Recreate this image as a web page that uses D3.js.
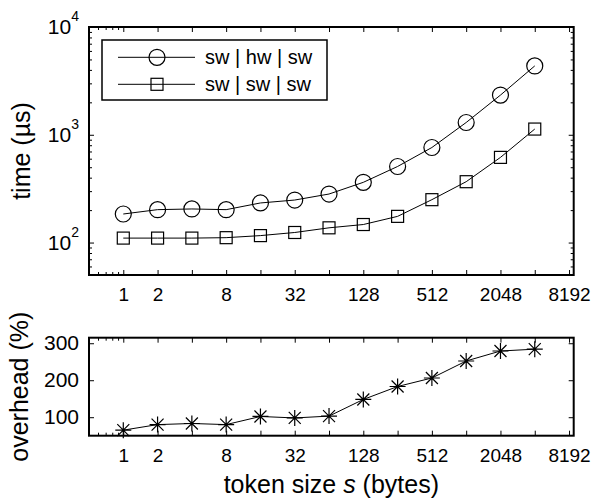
<!DOCTYPE html>
<html>
<head>
<meta charset="utf-8">
<script src="https://cdn.jsdelivr.net/npm/d3@7"></script>
<style>
  body { margin: 0; background: #fff; }
  text { font-family: "Liberation Sans", Arial, sans-serif; fill: #000; }
</style>
</head>
<body>
<script>
// token sizes (bytes) and the measured values
var sizes = [1, 2, 4, 8, 16, 32, 64, 128, 256, 512, 1024, 2048, 4096];
var hwTime = [184, 202, 205, 202, 233, 248, 282, 362, 508, 762, 1300, 2335, 4355];
var swTime = [110, 110, 110, 111, 116, 124, 137, 147, 175, 250, 367, 617, 1130];
var overhead = [65, 80, 83, 80, 102, 98, 103, 148, 183, 206, 252, 279, 284];

var seriesNames = ['sw | hw | sw', 'sw | sw | sw'];

var xTicks = [1, 2, 4, 8, 16, 32, 64, 128, 256, 512, 1024, 2048, 4096, 8192];
var xLabeled = [1, 2, 8, 32, 128, 512, 2048, 8192];
var xMinor = [0.6, 0.7, 0.8, 0.9];
var yTimeTicks = [100, 1000, 10000];
var yTimeMinor = [60, 70, 80, 90, 200, 300, 400, 500, 600, 700, 800, 900,
  2000, 3000, 4000, 5000, 6000, 7000, 8000, 9000];
var yOverTicks = [100, 200, 300];

var W = 595, H = 499;
var left = 89, right = 573.7;
var top1 = 27, bot1 = 275, top2 = 337.7, bot2 = 435.7;

var svg = d3.select('body').append('svg')
  .attr('width', W)
  .attr('height', H);

var x = d3.scaleLog().base(2).domain([0.5, 9000]).range([left, right]);
var yT = d3.scaleLog().domain([50, 10000]).range([bot1, top1]);
var yO = d3.scaleLinear().domain([50, 315]).range([bot2, top2]);

function clean(g) {
  g.select('.domain').remove();
  g.selectAll('line').attr('stroke', '#000').attr('stroke-width', 1);
}

// x ticks on both borders of a panel
function xAxes(top, bot) {
  svg.append('g').attr('transform', 'translate(0,' + bot + ')')
    .call(d3.axisBottom(x).tickValues(xTicks).tickSize(-5).tickPadding(13)
      .tickFormat(function(d){ return xLabeled.indexOf(d) >= 0 ? d : ''; }))
    .call(clean)
    .selectAll('text').style('font-size', '19px');
  svg.append('g').attr('transform', 'translate(0,' + bot + ')')
    .call(d3.axisBottom(x).tickValues(xMinor).tickSize(-3).tickFormat(''))
    .call(clean);
  svg.append('g').attr('transform', 'translate(0,' + top + ')')
    .call(d3.axisTop(x).tickValues(xTicks).tickSize(-5).tickFormat(''))
    .call(clean);
  svg.append('g').attr('transform', 'translate(0,' + top + ')')
    .call(d3.axisTop(x).tickValues(xMinor).tickSize(-3).tickFormat(''))
    .call(clean);
}

xAxes(top1, bot1);
xAxes(top2, bot2);

// top panel y axis (log)
var yl = svg.append('g').attr('transform', 'translate(' + left + ',0)')
  .call(d3.axisLeft(yT).tickValues(yTimeTicks).tickSize(-5).tickPadding(10).tickFormat(''))
  .call(clean);
yl.selectAll('.tick text').each(function(d) {
  var t = d3.select(this).style('font-size', '21px');
  t.append('tspan').text('10');
  t.append('tspan').text(Math.round(Math.log10(d)))
    .style('font-size', '14px').attr('dy', '-13');
});
svg.append('g').attr('transform', 'translate(' + left + ',0)')
  .call(d3.axisLeft(yT).tickValues(yTimeMinor).tickSize(-3).tickFormat(''))
  .call(clean);
svg.append('g').attr('transform', 'translate(' + right + ',0)')
  .call(d3.axisRight(yT).tickValues(yTimeTicks).tickSize(-5).tickFormat(''))
  .call(clean);
svg.append('g').attr('transform', 'translate(' + right + ',0)')
  .call(d3.axisRight(yT).tickValues(yTimeMinor).tickSize(-3).tickFormat(''))
  .call(clean);

// bottom panel y axis
svg.append('g').attr('transform', 'translate(' + left + ',0)')
  .call(d3.axisLeft(yO).tickValues(yOverTicks).tickSize(-5).tickPadding(10))
  .call(clean)
  .selectAll('text').style('font-size', '21px');
svg.append('g').attr('transform', 'translate(' + right + ',0)')
  .call(d3.axisRight(yO).tickValues(yOverTicks).tickSize(-5).tickFormat(''))
  .call(clean);

// panel boxes
[[top1, bot1], [top2, bot2]].forEach(function(p) {
  svg.append('rect')
    .attr('x', left).attr('y', p[0])
    .attr('width', right - left).attr('height', p[1] - p[0])
    .attr('fill', 'none').attr('stroke', '#000').attr('stroke-width', 2);
});

// lines
var lineT = d3.line().x(function(d){ return x(d[0]); }).y(function(d){ return yT(d[1]); });
var lineO = d3.line().x(function(d){ return x(d[0]); }).y(function(d){ return yO(d[1]); });

var hwPts = sizes.map(function(s, i){ return [s, hwTime[i]]; });
var swPts = sizes.map(function(s, i){ return [s, swTime[i]]; });
var ovPts = sizes.map(function(s, i){ return [s, overhead[i]]; });

[hwPts, swPts].forEach(function(pts) {
  svg.append('path').datum(pts).attr('d', lineT)
    .attr('fill', 'none').attr('stroke', '#000').attr('stroke-width', 1);
});
svg.append('path').datum(ovPts).attr('d', lineO)
  .attr('fill', 'none').attr('stroke', '#000').attr('stroke-width', 1);

function circleMark(g, cx, cy) {
  g.append('circle').attr('cx', cx).attr('cy', cy).attr('r', 8)
    .attr('fill', 'none').attr('stroke', '#000').attr('stroke-width', 1.2);
}
function squareMark(g, cx, cy) {
  g.append('rect').attr('x', cx - 6).attr('y', cy - 6).attr('width', 12).attr('height', 12)
    .attr('fill', 'none').attr('stroke', '#000').attr('stroke-width', 1.2);
}
function starMark(g, cx, cy) {
  var s = 8, d = 6;
  var p = 'M' + (cx - s) + ',' + cy + 'H' + (cx + s) +
    'M' + cx + ',' + (cy - s) + 'V' + (cy + s) +
    'M' + (cx - d) + ',' + (cy - d) + 'L' + (cx + d) + ',' + (cy + d) +
    'M' + (cx - d) + ',' + (cy + d) + 'L' + (cx + d) + ',' + (cy - d);
  g.append('path').attr('d', p).attr('stroke', '#000').attr('stroke-width', 1.2).attr('fill', 'none');
}

var marks = svg.append('g');
hwPts.forEach(function(d){ circleMark(marks, x(d[0]), yT(d[1])); });
swPts.forEach(function(d){ squareMark(marks, x(d[0]), yT(d[1])); });
ovPts.forEach(function(d){ starMark(marks, x(d[0]), yO(d[1])); });

// legend
var leg = svg.append('g');
leg.append('rect').attr('x', 102).attr('y', 40).attr('width', 225).attr('height', 60)
  .attr('fill', '#fff').attr('stroke', '#000').attr('stroke-width', 1.5);
var legY = [57.3, 84.3];
seriesNames.forEach(function(name, i) {
  leg.append('line').attr('x1', 118).attr('x2', 195).attr('y1', legY[i]).attr('y2', legY[i])
    .attr('stroke', '#000').attr('stroke-width', 1);
  if (i === 0) circleMark(leg, 157, legY[i]); else squareMark(leg, 157, legY[i]);
  leg.append('text').attr('x', 205).attr('y', legY[i]).attr('dy', '0.35em')
    .style('font-size', '20px').text(name);
});

// axis labels
svg.append('text')
  .attr('transform', 'translate(22.5,' + ((top1 + bot1) / 2) + ') rotate(-90)')
  .attr('text-anchor', 'middle').attr('dy', '0.3em')
  .style('font-size', '25px').text('time (µs)');
svg.append('text')
  .attr('transform', 'translate(20,' + ((top2 + bot2) / 2) + ') rotate(-90)')
  .attr('text-anchor', 'middle').attr('dy', '0.3em')
  .style('font-size', '25px').text('overhead (%)');
var xl = svg.append('text')
  .attr('x', (left + right) / 2).attr('y', 493)
  .attr('text-anchor', 'middle').style('font-size', '25px');
xl.append('tspan').text('token size ');
xl.append('tspan').style('font-style', 'italic').text('s');
xl.append('tspan').text(' (bytes)');
</script>
</body>
</html>
